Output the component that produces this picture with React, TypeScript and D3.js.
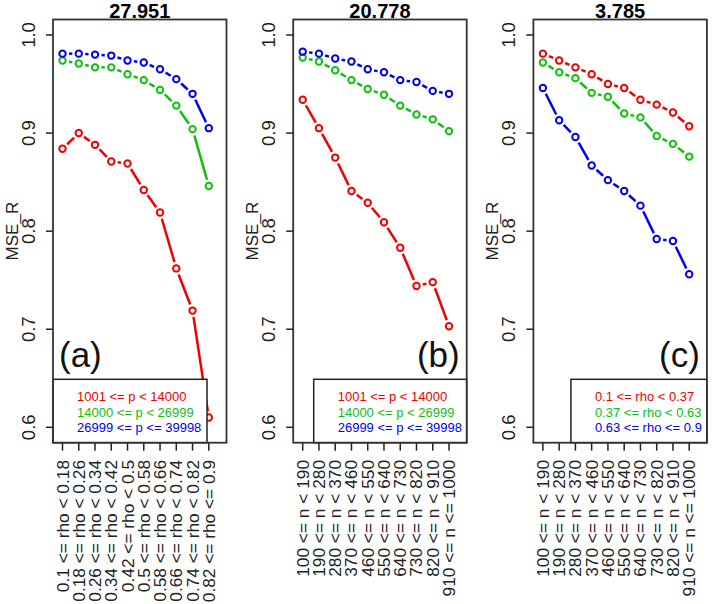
import * as d3 from "d3";

// ---- data ----
const panelTitles = ["27.951", "20.778", "3.785"];
const panelTags = ["(a)", "(b)", "(c)"];

const rhoLabels = [
  "0.1 <= rho < 0.18", "0.18 <= rho < 0.26", "0.26 <= rho < 0.34", "0.34 <= rho < 0.42",
  "0.42 <= rho < 0.5", "0.5 <= rho < 0.58", "0.58 <= rho < 0.66", "0.66 <= rho < 0.74",
  "0.74 <= rho < 0.82", "0.82 <= rho <= 0.9",
];
const nLabels = [
  "100 <= n < 190", "190 <= n < 280", "280 <= n < 370", "370 <= n < 460",
  "460 <= n < 550", "550 <= n < 640", "640 <= n < 730", "730 <= n < 820",
  "820 <= n < 910", "910 <= n <= 1000",
];
const pLegend = ["1001 <= p < 14000", "14000 <= p < 26999", "26999 <= p <= 39998"];
const rhoLegend = ["0.1 <= rho < 0.37", "0.37 <= rho < 0.63", "0.63 <= rho <= 0.9"];
const yTicks = [0.6, 0.7, 0.8, 0.9, 1.0];

// panel (a): MSE_R by rho group, one series per p group
const aRed = [0.884, 0.9, 0.888, 0.871, 0.869, 0.842, 0.819, 0.762, 0.719, 0.610];
const aGreen = [0.974, 0.971, 0.967, 0.967, 0.960, 0.954, 0.944, 0.928, 0.904, 0.846];
const aBlue = [0.981, 0.981, 0.980, 0.979, 0.974, 0.972, 0.965, 0.955, 0.940, 0.905];

// panel (b): by n group, one series per p group
const bRed = [0.934, 0.905, 0.875, 0.841, 0.829, 0.809, 0.783, 0.744, 0.748, 0.703];
const bGreen = [0.977, 0.973, 0.964, 0.954, 0.945, 0.939, 0.928, 0.919, 0.914, 0.902];
const bBlue = [0.983, 0.981, 0.976, 0.973, 0.965, 0.962, 0.954, 0.952, 0.943, 0.940];

// panel (c): by n group, one series per rho group
const cRed = [0.981, 0.974, 0.967, 0.960, 0.950, 0.946, 0.934, 0.929, 0.921, 0.907];
const cGreen = [0.972, 0.962, 0.956, 0.941, 0.937, 0.920, 0.916, 0.897, 0.889, 0.876];
const cBlue = [0.946, 0.913, 0.896, 0.867, 0.852, 0.841, 0.826, 0.792, 0.790, 0.756];

const colors = ["#f00000", "#10c010", "#0000f0"];
const font = "'Liberation Sans', Arial, sans-serif";

const panels = [
  { title: panelTitles[0], tag: panelTags[0], xLabels: rhoLabels, legend: pLegend, series: [aRed, aGreen, aBlue], legendSide: "left", legendW: 154, tagSide: "left" },
  { title: panelTitles[1], tag: panelTags[1], xLabels: nLabels, legend: pLegend, series: [bRed, bGreen, bBlue], legendSide: "right", legendW: 153, tagSide: "right" },
  { title: panelTitles[2], tag: panelTags[2], xLabels: nLabels, legend: rhoLegend, series: [cRed, cGreen, cBlue], legendSide: "right", legendW: 136, tagSide: "right" },
];

const W = 712, H = 604;
const boxTop = 19.5, boxBottom = 442.7, boxW = 173.5;
const y = d3.scaleLinear().domain([0.5843, 1.0158]).range([boxBottom, boxTop]);
const GAP = 6.5; // R type="b" gap around points

function Panel({ p, left }: { p: any; left: number }) {
  const x = d3.scaleLinear().domain([1, 10]).range([left + 9.5, left + 155.8]);
  const idx = d3.range(1, 11);
  const legX = p.legendSide === "left" ? left : left + boxW - p.legendW;
  const legTop = 379.3;

  const segs = (vals: number[]) =>
    vals.slice(1).map((v, i) => {
      const x0 = x(idx[i]), y0 = y(vals[i]), x1 = x(idx[i + 1]), y1 = y(v);
      const len = Math.hypot(x1 - x0, y1 - y0);
      if (len <= 2 * GAP) return null;
      const ux = (x1 - x0) / len, uy = (y1 - y0) / len;
      return d3.line()([[x0 + ux * GAP, y0 + uy * GAP], [x1 - ux * GAP, y1 - uy * GAP]]);
    });

  return (
    <g>
      <text x={left + boxW / 2} y={18} textAnchor="middle" fontWeight="bold" fontSize={20} fontFamily={font}>{p.title}</text>
      {/* y axis */}
      {yTicks.map((t) => (
        <g key={t}>
          <line x1={left - 7} x2={left} y1={y(t)} y2={y(t)} stroke="#222" strokeWidth={1.5} />
          <text transform={`translate(${left - 18},${y(t)}) rotate(-90)`} textAnchor="middle" fontSize={18.5} fontFamily={font} fill="#222">{t.toFixed(1)}</text>
        </g>
      ))}
      <text transform={`translate(${left - 35},${(boxTop + boxBottom) / 2}) rotate(-90)`} textAnchor="middle" fontSize={17} fontFamily={font} fill="#222">MSE_R</text>
      {/* x axis */}
      {idx.map((i) => (
        <g key={i}>
          <line x1={x(i)} x2={x(i)} y1={boxBottom} y2={boxBottom + 8} stroke="#222" strokeWidth={1.5} />
          <text transform={`translate(${x(i) + 6},${460}) rotate(-90)`} textAnchor="end" fontSize={17.3} fontFamily={font} fill="#222">{p.xLabels[i - 1]}</text>
        </g>
      ))}
      {/* series */}
      {p.series.map((vals: number[], s: number) => (
        <g key={s}>
          {segs(vals).map((d, k) => d && <path key={k} d={d} stroke={colors[s]} strokeWidth={2.5} fill="none" />)}
          {vals.map((v, k) => (
            <circle key={k} cx={x(idx[k])} cy={y(v)} r={3.2} fill="none" stroke={colors[s]} strokeWidth={2} />
          ))}
        </g>
      ))}
      {/* tag */}
      <text x={p.tagSide === "left" ? left + 6 : left + boxW - 7} y={367} textAnchor={p.tagSide === "left" ? "start" : "end"} fontSize={35} fontFamily={font} fill="#111">{p.tag}</text>
      {/* legend */}
      <rect x={legX} y={legTop} width={p.legendW} height={boxBottom - legTop} fill="white" stroke="#222" strokeWidth={1.5} />
      {p.legend.map((t: string, k: number) => (
        <text key={k} x={legX + 24} y={legTop + 22 + k * 15.5} fontSize={13} fontFamily={font} fill={colors[k]}>{t}</text>
      ))}
      <rect x={left} y={boxTop} width={boxW} height={boxBottom - boxTop} fill="none" stroke="#333" strokeWidth={1.8} />
    </g>
  );
}

export default function App() {
  return (
    <svg width={W} height={H} style={{ position: "absolute", left: 0, top: 0, background: "white" }}>
      <rect width={W} height={H} fill="white" />
      {panels.map((p, i) => (
        <Panel key={i} p={p} left={53 + i * 240.2} />
      ))}
    </svg>
  );
}
